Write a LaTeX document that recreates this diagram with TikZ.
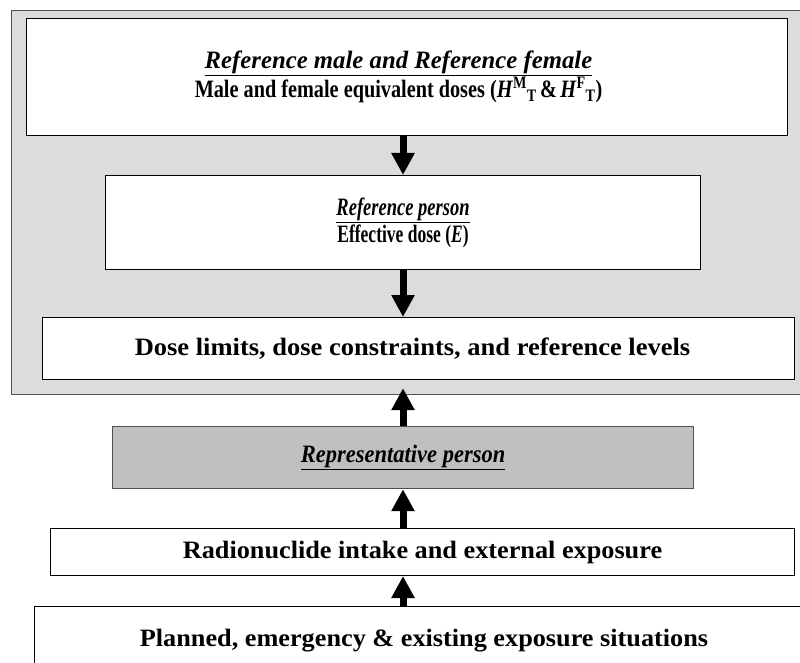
\documentclass[tikz,border=0pt]{standalone}
\usepackage{fontspec}
\setmainfont{Liberation Serif}
\usepackage{graphicx}
\usetikzlibrary{arrows.meta,calc}
\definecolor{panelgray}{HTML}{DCDCDC}
\definecolor{repgray}{HTML}{C0C0C0}
\definecolor{edgegray}{HTML}{505050}
\newcommand{\fs}[2]{\fontsize{#1}{#2}\selectfont}
\newcommand{\hsq}[2]{\scalebox{#1}[1]{#2}}
\begin{document}
\begin{tikzpicture}[x=1pt,y=1pt,
  panelbox/.style={draw=edgegray, line width=1.2pt, fill=panelgray, rectangle, inner sep=0pt, anchor=north west},
  whitebox/.style={draw=black, line width=1pt, fill=white, rectangle, inner sep=0pt, anchor=north west, align=center,
     font=\bfseries\fs{25}{24}},
  repbox/.style={whitebox, draw=edgegray, line width=1.2pt, fill=repgray},
  bigarrow/.style={line width=7pt, -{Triangle[width=22pt,length=22pt]}}
]
\useasboundingbox (0,0) rectangle (800,-663);
% grey panel
\node[panelbox, minimum width=790pt, minimum height=384pt] (panel) at (11,-10) {};
% boxes
\node[whitebox, minimum width=761pt, minimum height=117pt] (b1) at (26,-18)
  {\kern-17pt\hsq{0.99}{\underline{\textit{Reference male and Reference female}}}\\
   \kern-17pt\hsq{0.81}{Male and female equivalent doses (\textit{H}\textsuperscript{M}\textsubscript{T}\,\&\,\textit{H}\textsuperscript{F}\textsubscript{T})}};
\node[whitebox, minimum width=595pt, minimum height=94pt, font=\bfseries\fs{25}{27}] (b2) at (105,-175)
  {\hsq{0.74}{\underline{\textit{Reference person}}}\\ \hsq{0.70}{Effective dose (\textit{E})}};
\node[whitebox, minimum width=752pt, minimum height=62pt] (b3) at (42,-317)
  {\kern-12pt\hsq{1.06}{Dose limits, dose constraints, and reference levels}};
\node[repbox, minimum width=581pt, minimum height=62pt] (b4) at (112,-426)
  {\hsq{0.90}{\underline{\textit{Representative person}}}};
\node[whitebox, minimum width=744pt, minimum height=47pt] (b5) at (50,-528)
  {\hsq{1.05}{Radionuclide intake and external exposure}};
\node[whitebox, minimum width=779pt, minimum height=68pt] (b6) at (34,-606)
  {\hsq{1.05}{Planned, emergency \& existing exposure situations}};
% arrows
\coordinate (ax) at (403,0);
\draw[bigarrow] (b1.south -| ax) -- (b2.north -| ax);
\draw[bigarrow] (b2.south -| ax) -- (b3.north -| ax);
\draw[bigarrow] (b4.north -| ax) -- ($(panel.south -| ax)+(0,7)$);
\draw[bigarrow] (b5.north -| ax) -- (b4.south -| ax);
\draw[bigarrow] (b6.north -| ax) -- (b5.south -| ax);
\end{tikzpicture}
\end{document}
